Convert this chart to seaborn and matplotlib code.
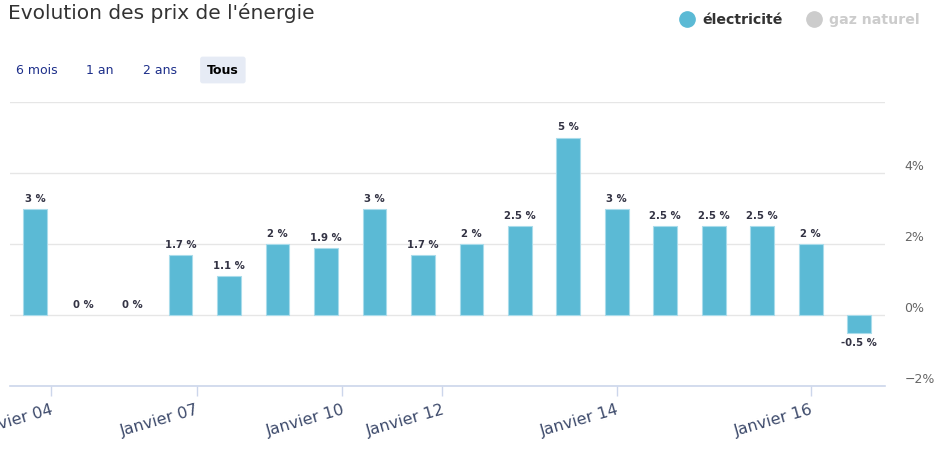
import numpy as np
import pandas as pd
import seaborn as sns
import matplotlib.pyplot as plt
from matplotlib.lines import Line2D
from matplotlib.transforms import ScaledTranslation

# data: annual / half-yearly price change of electricity (%)
periodes = ['2003-09', '2004-09', '2005-09', '2006-09', '2007-09', '2008-09',
            '2009-09', '2010-09', '2011-09', '2012-07', '2013-01', '2013-07',
            '2014-01', '2014-07', '2015-01', '2015-07', '2016-01', '2016-07']
variation = [3, 0, 0, 1.7, 1.1, 2, 1.9, 3, 1.7, 2, 2.5, 5, 3, 2.5, 2.5, 2.5, 2, -0.5]
tick_dates = ['2004-01', '2007-01', '2010-01', '2012-01', '2014-01', '2016-01']
tick_labels = ['Janvier 04', 'Janvier 07', 'Janvier 10', 'Janvier 12', 'Janvier 14', 'Janvier 16']
y_ticks = [-2, 0, 2, 4, 6]
y_labels = ['\u22122%', '0%', '2%', '4%', '']

df = pd.DataFrame({'periode': periodes, 'variation': variation})

def months(s):
    y, m = s.split('-')
    return int(y) * 12 + int(m)

# ordinal axis: ticks interpolated between bar positions
bar_m = np.array([months(p) for p in periodes])
tick_pos = np.interp([months(t) for t in tick_dates], bar_m, np.arange(len(periodes)))

bar_col = '#5bbad5'
fig = plt.figure(figsize=(9.4, 4.53), dpi=100)
ax = fig.add_axes([10/940, 67/453, 875/940, 284/453])
sns.barplot(data=df, x='periode', y='variation', color=bar_col, saturation=1,
            width=0.49, edgecolor='#a9dceb', linewidth=0.8, ax=ax, zorder=3)
# zero bars: no visible outline
for p, v in zip(ax.patches, variation):
    if v == 0:
        p.set_edgecolor('none')

for i, v in enumerate(variation):
    off = 5 if v >= 0 else -5
    ax.annotate(f'{v:g} %', (i, v), xytext=(0, off), textcoords='offset pixels',
                ha='center', va='bottom' if v >= 0 else 'top',
                fontsize=7.3, fontweight='bold', color='#333344', zorder=4)

ax.set_xlim(-0.515, 17.53)
ax.set_ylim(-2, 6)
ax.set_xlabel('')
ax.set_ylabel('')
for s in ['top', 'left', 'right']:
    ax.spines[s].set_visible(False)
ax.spines['bottom'].set_color('#ccd6eb')
ax.spines['bottom'].set_linewidth(1.2)

ax.set_yticks(y_ticks, y_labels)
ax.yaxis.tick_right()
ax.tick_params(axis='y', length=0, pad=14, labelsize=9, labelcolor='#666666')
off = ScaledTranslation(0, 8/100, fig.dpi_scale_trans)
for lbl in ax.get_yticklabels():
    lbl.set_transform(lbl.get_transform() + off)
ax.grid(axis='y', color='#e6e6e6', linewidth=1, zorder=0)
ax.set_axisbelow(True)

ax.set_xticks(tick_pos, tick_labels)
ax.tick_params(axis='x', length=7.5, width=1, color='#ccd6eb', pad=4,
               labelsize=11.5, labelcolor='#3d4a6b')
for lbl in ax.get_xticklabels():
    lbl.set_rotation(16)
    lbl.set_ha('right')
    lbl.set_va('top')
    lbl.set_rotation_mode('anchor')

fig.text(8/940, 1 - 13/453, "Evolution des prix de l'énergie", fontsize=14.5,
         color='#333333', va='center', ha='left')

# range selector buttons
for x, t in [(16, '6 mois'), (86, '1 an'), (143, '2 ans')]:
    fig.text(x/940, 1 - 70/453, t, fontsize=9, color='#1d2f8a', va='center')
fig.text(207/940, 1 - 70/453, 'Tous', fontsize=9, color='#000000', fontweight='bold',
         va='center', bbox=dict(boxstyle='round,pad=0.55,rounding_size=0.2',
                                fc='#e6ebf5', ec='none'))

handles = [Line2D([], [], marker='o', ls='', ms=11, color=bar_col),
           Line2D([], [], marker='o', ls='', ms=11, color='#cccccc')]
leg = fig.legend(handles, ['électricité', 'gaz naturel'], loc='center right',
                 bbox_to_anchor=(932/940, 1 - 20/453), ncol=2, frameon=False,
                 handletextpad=0.55, columnspacing=1.7, handlelength=1.0,
                 prop={'size': 10.2, 'weight': 'bold'})
leg.get_texts()[0].set_color('#333333')
leg.get_texts()[1].set_color('#cccccc')

fig.savefig('out.png', dpi=100)
